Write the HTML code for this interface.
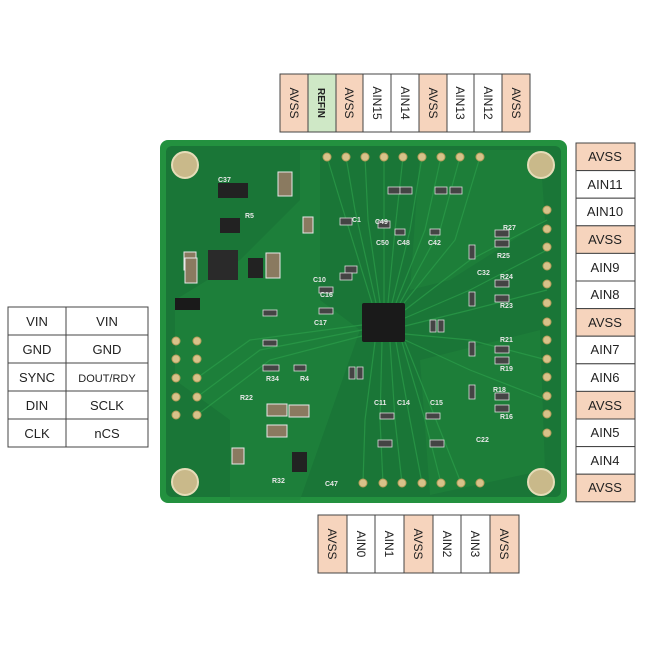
<!DOCTYPE html>
<html><head><style>
body{margin:0;background:#fff;width:650px;height:650px;overflow:hidden;font-family:"Liberation Sans",sans-serif}
</style></head><body>
<svg width="650" height="650" viewBox="0 0 650 650" xmlns="http://www.w3.org/2000/svg" font-family="Liberation Sans, sans-serif">
<rect width="650" height="650" fill="#fff"/>
<!-- board -->
<rect x="160" y="140" width="407" height="363" rx="8" fill="#23913f"/>
<rect x="166" y="146" width="395" height="351" rx="6" fill="#1a7637"/>
<path d="M300,150 L320,150 L320,300 L360,330 L300,500 L230,500 L230,420 L175,380 L175,300 L240,260 L300,200Z" fill="#1f853c" opacity="0.6"/>
<path d="M420,150 L540,150 L545,220 L450,280 L410,290Z" fill="#1f853c" opacity="0.5"/>
<path d="M420,360 L540,330 L545,470 L430,495Z" fill="#1f853c" opacity="0.5"/>
<g stroke="#2a9a48" stroke-width="1.2" fill="none" opacity="0.8">
<path d="M327,157 L340,200 L372,303"/><path d="M346,157 L355,210 L376,303"/><path d="M365,157 L368,220 L380,303"/>
<path d="M384,157 L384,303"/><path d="M403,157 L395,230 L388,303"/><path d="M422,157 L410,230 L392,303"/>
<path d="M441,157 L425,230 L396,303"/><path d="M460,157 L440,230 L400,303"/><path d="M480,157 L455,240 L404,303"/>
<path d="M547,220 L470,260 L405,310"/><path d="M547,250 L470,290 L405,318"/><path d="M547,290 L470,310 L405,326"/>
<path d="M547,360 L470,340 L405,334"/><path d="M547,400 L470,370 L405,340"/>
<path d="M363,483 L365,420 L375,342"/><path d="M383,483 L380,420 L382,342"/><path d="M402,483 L395,420 L390,342"/>
<path d="M422,483 L410,420 L396,342"/><path d="M441,483 L425,420 L402,342"/><path d="M461,483 L440,430 L405,342"/>
<path d="M197,378 L250,340 L362,325"/><path d="M197,397 L260,350 L362,330"/><path d="M197,415 L270,360 L362,336"/>
</g>
<!-- corner holes -->
<g fill="#c9b98a" stroke="#e6dcb8" stroke-width="2">
<circle cx="185" cy="165" r="13"/><circle cx="541" cy="165" r="13"/><circle cx="185" cy="482" r="13"/><circle cx="541" cy="482" r="13"/>
</g>
<!-- pins -->
<g fill="#d8c28a" stroke="#b79e5c" stroke-width="1">
<circle cx="327" cy="157" r="4"/><circle cx="346" cy="157" r="4"/><circle cx="365" cy="157" r="4"/><circle cx="384" cy="157" r="4"/><circle cx="403" cy="157" r="4"/><circle cx="422" cy="157" r="4"/><circle cx="441" cy="157" r="4"/><circle cx="460" cy="157" r="4"/><circle cx="480" cy="157" r="4"/>
<circle cx="547" cy="210" r="4"/><circle cx="547" cy="229" r="4"/><circle cx="547" cy="247" r="4"/><circle cx="547" cy="266" r="4"/><circle cx="547" cy="284" r="4"/><circle cx="547" cy="303" r="4"/><circle cx="547" cy="322" r="4"/><circle cx="547" cy="340" r="4"/><circle cx="547" cy="359" r="4"/><circle cx="547" cy="377" r="4"/><circle cx="547" cy="396" r="4"/><circle cx="547" cy="414" r="4"/><circle cx="547" cy="433" r="4"/>
<circle cx="363" cy="483" r="4"/><circle cx="383" cy="483" r="4"/><circle cx="402" cy="483" r="4"/><circle cx="422" cy="483" r="4"/><circle cx="441" cy="483" r="4"/><circle cx="461" cy="483" r="4"/><circle cx="480" cy="483" r="4"/>
<circle cx="176" cy="341" r="4"/><circle cx="197" cy="341" r="4"/><circle cx="176" cy="359" r="4"/><circle cx="197" cy="359" r="4"/><circle cx="176" cy="378" r="4"/><circle cx="197" cy="378" r="4"/><circle cx="176" cy="397" r="4"/><circle cx="197" cy="397" r="4"/><circle cx="176" cy="415" r="4"/><circle cx="197" cy="415" r="4"/>
</g>
<!-- chips -->
<rect x="362" y="303" width="43" height="39" rx="2" fill="#1a1a1a"/>
<rect x="208" y="250" width="30" height="30" fill="#2a2a2a"/>
<rect x="175" y="298" width="25" height="12" fill="#1a1a1a"/>
<rect x="218" y="183" width="30" height="15" fill="#222"/>
<rect x="220" y="218" width="20" height="15" fill="#222"/>
<rect x="248" y="258" width="15" height="20" fill="#222"/>
<rect x="292" y="452" width="15" height="20" fill="#222"/>
<!-- passives -->
<g fill="#8a7a60" stroke="#e8e8e8" stroke-width="1">
<rect x="278" y="172" width="14" height="24"/><rect x="184" y="252" width="12" height="18"/><rect x="185" y="258" width="12" height="25"/><rect x="266" y="253" width="14" height="25"/>
<rect x="267" y="404" width="20" height="12"/><rect x="289" y="405" width="20" height="12"/><rect x="267" y="425" width="20" height="12"/>
<rect x="232" y="448" width="12" height="16"/><rect x="303" y="217" width="10" height="16"/>
</g>
<g fill="#444" stroke="#ddd" stroke-width="0.8">
<rect x="340" y="218" width="12" height="7"/><rect x="345" y="266" width="12" height="7"/><rect x="340" y="273" width="12" height="7"/>
<rect x="388" y="187" width="12" height="7"/><rect x="400" y="187" width="12" height="7"/><rect x="435" y="187" width="12" height="7"/><rect x="450" y="187" width="12" height="7"/>
<rect x="378" y="221" width="12" height="7"/><rect x="395" y="229" width="10" height="6"/><rect x="430" y="229" width="10" height="6"/>
<rect x="495" y="230" width="14" height="7"/><rect x="495" y="240" width="14" height="7"/><rect x="495" y="280" width="14" height="7"/><rect x="495" y="295" width="14" height="7"/>
<rect x="495" y="346" width="14" height="7"/><rect x="495" y="357" width="14" height="7"/><rect x="495" y="393" width="14" height="7"/><rect x="495" y="405" width="14" height="7"/>
<rect x="319" y="287" width="14" height="6"/><rect x="319" y="308" width="14" height="6"/><rect x="263" y="310" width="14" height="6"/><rect x="263" y="340" width="14" height="6"/>
<rect x="263" y="365" width="16" height="6"/><rect x="294" y="365" width="12" height="6"/>
<rect x="378" y="440" width="14" height="7"/><rect x="430" y="440" width="14" height="7"/><rect x="380" y="413" width="14" height="6"/><rect x="426" y="413" width="14" height="6"/>
<rect x="430" y="320" width="6" height="12"/><rect x="438" y="320" width="6" height="12"/><rect x="349" y="367" width="6" height="12"/><rect x="357" y="367" width="6" height="12"/>
<rect x="469" y="245" width="6" height="14"/><rect x="469" y="292" width="6" height="14"/><rect x="469" y="342" width="6" height="14"/><rect x="469" y="385" width="6" height="14"/>
</g>
<g fill="#e8e8e8" font-size="7" font-weight="bold">
<text x="218" y="182">C37</text><text x="245" y="218">R5</text><text x="352" y="222">C1</text><text x="313" y="282">C10</text>
<text x="320" y="297">C16</text><text x="314" y="325">C17</text><text x="266" y="381">R34</text><text x="300" y="381">R4</text>
<text x="240" y="400">R22</text><text x="272" y="483">R32</text><text x="325" y="486">C47</text>
<text x="375" y="224">C49</text><text x="376" y="245">C50</text><text x="397" y="245">C48</text><text x="428" y="245">C42</text>
<text x="503" y="230">R27</text><text x="497" y="258">R25</text><text x="477" y="275">C32</text><text x="500" y="279">R24</text><text x="500" y="308">R23</text>
<text x="500" y="342">R21</text><text x="500" y="371">R19</text><text x="493" y="392">R18</text><text x="500" y="419">R16</text>
<text x="374" y="405">C11</text><text x="397" y="405">C14</text><text x="430" y="405">C15</text><text x="476" y="442">C22</text>
</g>
<!-- top labels -->
<g font-size="12" fill="#222" stroke="#444" stroke-width="1">
<rect x="280" y="74" width="28" height="58" fill="#f6d4bd"/><rect x="308" y="74" width="28" height="58" fill="#cfe8c6"/><rect x="336" y="74" width="27" height="58" fill="#f6d4bd"/>
<rect x="363" y="74" width="28" height="58" fill="#fff"/><rect x="391" y="74" width="28" height="58" fill="#fff"/><rect x="419" y="74" width="28" height="58" fill="#f6d4bd"/>
<rect x="447" y="74" width="27" height="58" fill="#fff"/><rect x="474" y="74" width="28" height="58" fill="#fff"/><rect x="502" y="74" width="28" height="58" fill="#f6d4bd"/>
</g>
<g font-size="12" fill="#222">
<text transform="translate(290,103) rotate(90)" text-anchor="middle">AVSS</text>
<text transform="translate(318,103) rotate(90)" text-anchor="middle" font-size="10" font-weight="bold">REFIN</text>
<text transform="translate(345,103) rotate(90)" text-anchor="middle">AVSS</text>
<text transform="translate(373,103) rotate(90)" text-anchor="middle">AIN15</text>
<text transform="translate(401,103) rotate(90)" text-anchor="middle">AIN14</text>
<text transform="translate(429,103) rotate(90)" text-anchor="middle">AVSS</text>
<text transform="translate(456,103) rotate(90)" text-anchor="middle">AIN13</text>
<text transform="translate(484,103) rotate(90)" text-anchor="middle">AIN12</text>
<text transform="translate(512,103) rotate(90)" text-anchor="middle">AVSS</text>
</g>
<!-- bottom labels -->
<g stroke="#444" stroke-width="1">
<rect x="318" y="515" width="29" height="58" fill="#f6d4bd"/><rect x="347" y="515" width="28" height="58" fill="#fff"/><rect x="375" y="515" width="29" height="58" fill="#fff"/>
<rect x="404" y="515" width="29" height="58" fill="#f6d4bd"/><rect x="433" y="515" width="28" height="58" fill="#fff"/><rect x="461" y="515" width="29" height="58" fill="#fff"/><rect x="490" y="515" width="29" height="58" fill="#f6d4bd"/>
</g>
<g font-size="12" fill="#222">
<text transform="translate(328,544) rotate(90)" text-anchor="middle">AVSS</text>
<text transform="translate(357,544) rotate(90)" text-anchor="middle">AIN0</text>
<text transform="translate(385,544) rotate(90)" text-anchor="middle">AIN1</text>
<text transform="translate(414,544) rotate(90)" text-anchor="middle">AVSS</text>
<text transform="translate(443,544) rotate(90)" text-anchor="middle">AIN2</text>
<text transform="translate(471,544) rotate(90)" text-anchor="middle">AIN3</text>
<text transform="translate(500,544) rotate(90)" text-anchor="middle">AVSS</text>
</g>
<!-- right labels -->
<g stroke="#444" stroke-width="1">
<rect x="576" y="143" width="59" height="27.6" fill="#f6d4bd"/><rect x="576" y="170.6" width="59" height="27.6" fill="#fff"/><rect x="576" y="198.2" width="59" height="27.6" fill="#fff"/>
<rect x="576" y="225.8" width="59" height="27.6" fill="#f6d4bd"/><rect x="576" y="253.4" width="59" height="27.6" fill="#fff"/><rect x="576" y="281" width="59" height="27.6" fill="#fff"/>
<rect x="576" y="308.6" width="59" height="27.6" fill="#f6d4bd"/><rect x="576" y="336.2" width="59" height="27.6" fill="#fff"/><rect x="576" y="363.8" width="59" height="27.6" fill="#fff"/>
<rect x="576" y="391.4" width="59" height="27.6" fill="#f6d4bd"/><rect x="576" y="419" width="59" height="27.6" fill="#fff"/><rect x="576" y="446.6" width="59" height="27.6" fill="#fff"/>
<rect x="576" y="474.2" width="59" height="27.6" fill="#f6d4bd"/>
</g>
<g font-size="13" fill="#222" text-anchor="middle">
<text x="605" y="161">AVSS</text><text x="605" y="189">AIN11</text><text x="605" y="216">AIN10</text><text x="605" y="244">AVSS</text>
<text x="605" y="272">AIN9</text><text x="605" y="299">AIN8</text><text x="605" y="327">AVSS</text><text x="605" y="354">AIN7</text>
<text x="605" y="382">AIN6</text><text x="605" y="410">AVSS</text><text x="605" y="437">AIN5</text><text x="605" y="465">AIN4</text><text x="605" y="492">AVSS</text>
</g>
<!-- left table -->
<g stroke="#444" stroke-width="1" fill="#fff">
<rect x="8" y="307" width="140" height="140"/>
<line x1="66" y1="307" x2="66" y2="447"/>
<line x1="8" y1="335" x2="148" y2="335"/><line x1="8" y1="363" x2="148" y2="363"/><line x1="8" y1="391" x2="148" y2="391"/><line x1="8" y1="419" x2="148" y2="419"/>
</g>
<g font-size="13" fill="#222" text-anchor="middle">
<text x="37" y="326">VIN</text><text x="107" y="326">VIN</text>
<text x="37" y="354">GND</text><text x="107" y="354">GND</text>
<text x="37" y="382">SYNC</text><text x="107" y="382" font-size="11">DOUT/RDY</text>
<text x="37" y="410">DIN</text><text x="107" y="410">SCLK</text>
<text x="37" y="438">CLK</text><text x="107" y="438">nCS</text>
</g>
</svg>
</body></html>
